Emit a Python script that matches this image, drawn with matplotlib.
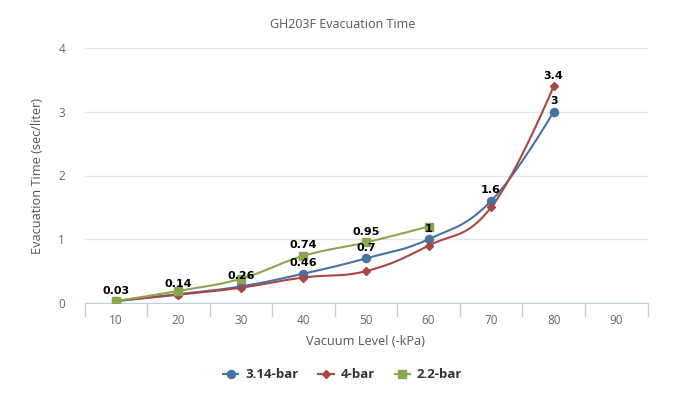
import numpy as np
import matplotlib
matplotlib.use("Agg")
import matplotlib.pyplot as plt
from matplotlib.lines import Line2D

plt.rcParams["font.family"] = ["Open Sans", "DejaVu Sans"]

# Data
vacuum = [10, 20, 30, 40, 50, 60, 70, 80, 90]
bar_314 = [0.03, 0.14, 0.26, 0.46, 0.7, 1.0, 1.6, 3.0]
bar_4 = [0.03, 0.13, 0.24, 0.40, 0.5, 0.9, 1.5, 3.4]
bar_22 = [0.03, 0.19, 0.38, 0.74, 0.95, 1.2]

series = [
    ("3.14-bar", bar_314, "#4572A7", "o", 5.8, [0, 1, 2, 3, 4, 5, 6, 7]),
    ("4-bar", bar_4, "#AA4643", "D", 4.0, [7]),
    ("2.2-bar", bar_22, "#89A54E", "s", 5.2, [3, 4]),
]

XS, YS = 6.25, 63.75  # px per unit, used only for the spline shape


def spline(xs, ys, n=30):
    # Highcharts-like spline (smoothing 1.5)
    px = np.array(xs, float) * XS
    py = np.array(ys, float) * YS
    m = len(px)
    lc, rc = [None] * m, [None] * m
    for i in range(1, m - 1):
        lx = (1.5 * px[i] + px[i - 1]) / 2.5
        ly = (1.5 * py[i] + py[i - 1]) / 2.5
        rx = (1.5 * px[i] + px[i + 1]) / 2.5
        ry = (1.5 * py[i] + py[i + 1]) / 2.5
        corr = (ry - ly) * (rx - px[i]) / (rx - lx) + py[i] - ry
        ly += corr
        ry += corr
        if ly > max(py[i - 1], py[i]):
            ly = max(py[i - 1], py[i]); ry = 2 * py[i] - ly
        elif ly < min(py[i - 1], py[i]):
            ly = min(py[i - 1], py[i]); ry = 2 * py[i] - ly
        if ry > max(py[i + 1], py[i]):
            ry = max(py[i + 1], py[i]); ly = 2 * py[i] - ry
        elif ry < min(py[i + 1], py[i]):
            ry = min(py[i + 1], py[i]); ly = 2 * py[i] - ry
        lc[i] = (lx, ly)
        rc[i] = (rx, ry)
    outx, outy = [], []
    t = np.linspace(0, 1, n)
    for i in range(m - 1):
        p0 = (px[i], py[i])
        p1 = rc[i] if rc[i] is not None else p0
        p3 = (px[i + 1], py[i + 1])
        p2 = lc[i + 1] if lc[i + 1] is not None else p3
        bx = (1 - t) ** 3 * p0[0] + 3 * (1 - t) ** 2 * t * p1[0] + 3 * (1 - t) * t ** 2 * p2[0] + t ** 3 * p3[0]
        by = (1 - t) ** 3 * p0[1] + 3 * (1 - t) ** 2 * t * p1[1] + 3 * (1 - t) * t ** 2 * p2[1] + t ** 3 * p3[1]
        outx.extend(bx)
        outy.extend(by)
    return np.array(outx) / XS, np.array(outy) / YS


fig = plt.figure(figsize=(6.85, 4.03), dpi=100)
ax = fig.add_axes([84.5 / 685, 100 / 403, 563 / 685, 255 / 403])

for name, vals, color, marker, ms, labelled in series:
    xs = vacuum[:len(vals)]
    sx, sy = spline(xs, vals)
    ax.plot(sx, sy, color=color, lw=1.5, zorder=3)
    ax.plot(xs, vals, ls="none", marker=marker, color=color, ms=ms, zorder=4)
    for i in labelled:
        ax.annotate(f"{vals[i]:g}", (xs[i], vals[i]), xytext=(0, 4),
                    textcoords="offset points", ha="center", va="bottom",
                    fontsize=8, fontweight="bold", color="#000000", zorder=5,
                    family="DejaVu Sans")

ax.set_xlim(5, 95)
ax.set_ylim(0, 4)
ax.set_yticks([0, 1, 2, 3, 4])
ax.set_xticks(vacuum)
ax.set_xticks(np.arange(5, 96, 10), minor=True)
ax.tick_params(axis="x", which="major", length=0, pad=8, labelsize=8.5, colors="#666666")
ax.tick_params(axis="x", which="minor", length=10, width=1, color="#C0D0E0")
ax.tick_params(axis="y", length=0, pad=14, labelsize=8.5, colors="#666666")
ax.grid(axis="y", color="#E6E6E6", lw=1)
ax.set_axisbelow(True)
for s in ["top", "right", "left"]:
    ax.spines[s].set_visible(False)
ax.spines["bottom"].set_color("#C0D0E0")

ax.set_xlabel("Vacuum Level (-kPa)", fontsize=9.2, color="#555555", labelpad=6)
ax.set_ylabel("Evacuation Time (sec/liter)", fontsize=9.2, color="#555555", labelpad=10)
fig.text(0.5, 1 - 24 / 403, "GH203F Evacuation Time", ha="center", va="center",
         fontsize=9, color="#555555")

handles = [Line2D([], [], color=c, marker=m, ms=ms, lw=1.5) for _, _, c, m, ms, _ in series]
fig.legend(handles, [s[0] for s in series], loc="center", bbox_to_anchor=(0.5, 1 - 375 / 403),
           ncol=3, frameon=False, handlelength=1.2, columnspacing=1.5,
           handletextpad=0.5, prop={"weight": "bold", "size": 9.5}, labelcolor="#333333")

fig.savefig("out.png", dpi=100)
